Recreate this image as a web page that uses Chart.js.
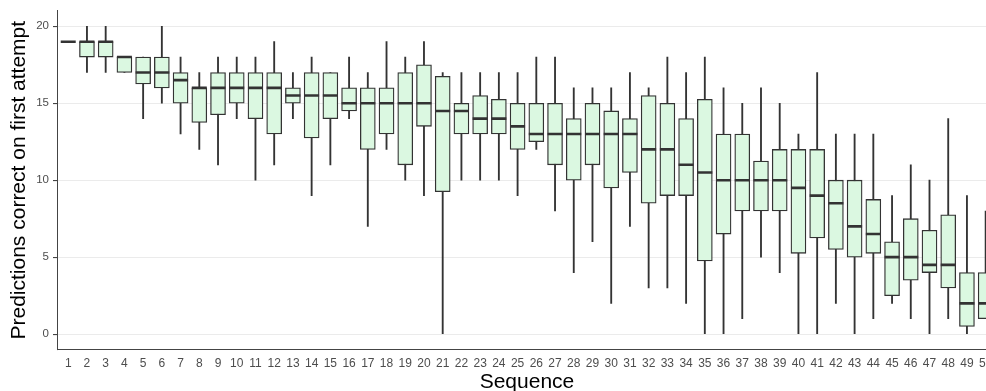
<!DOCTYPE html>
<html>
<head>
<meta charset="utf-8">
<script src="https://cdn.jsdelivr.net/npm/chart.js@4"></script>
<style>
	html, body { margin: 0; padding: 0; background: #fff; overflow: hidden; }
	#wrap { width: 1007px; height: 391px; }
</style>
</head>
<body>
<div id="wrap"><canvas id="boxes" width="1007" height="391"></canvas></div>
<script>
// one entry per sequence: whisker ends, quartiles and median
var sequences = [];
for (var s = 1; s <= 50; s++) sequences.push(s);

var whiskerLow = [19, 17, 17, 17, 14, 15, 13, 12, 11, 14,
	10, 11, 14, 9, 11, 14, 7, 12, 10, 9,
	0, 10, 10, 10, 9, 12, 8, 4, 6, 2,
	7, 3, 3, 2, 0, 0, 1, 5, 4, 0,
	0, 2, 0, 1, 2, 1, 0, 1, 0, 1];
var lowerQuartile = [19, 18, 18, 17, 16.25, 16, 15, 13.75, 14.25, 15,
	14, 13, 15, 12.75, 14, 14.5, 12, 13, 11, 13.5,
	9.25, 13, 13, 13, 12, 12.5, 11, 10, 11, 9.5,
	10.5, 8.5, 9, 9, 4.75, 6.5, 8, 8, 8, 5.25,
	6.25, 5.5, 5, 5.25, 2.5, 3.5, 4, 3, 0.5, 1];
var medians = [19, 19, 19, 18, 17, 17, 16.5, 16, 16, 16,
	16, 16, 15.5, 15.5, 15.5, 15, 15, 15, 15, 15,
	14.5, 14.5, 14, 14, 13.5, 13, 13, 13, 13, 13,
	13, 12, 12, 11, 10.5, 10, 10, 10, 10, 9.5,
	9, 8.5, 7, 6.5, 5, 5, 4.5, 4.5, 2, 2];
var upperQuartile = [19, 19, 19, 18, 18, 18, 17, 16, 17, 17,
	17, 17, 16, 17, 17, 16, 16, 16, 17, 17.5,
	16.75, 15, 15.5, 15.25, 15, 15, 15, 14, 15, 14.5,
	14, 15.5, 15, 14, 15.25, 13, 13, 11.25, 12, 12,
	12, 10, 10, 8.75, 6, 7.5, 6.75, 7.75, 4, 4];
var whiskerHigh = [19, 20, 20, 18, 18, 20, 18, 17, 18, 18,
	18, 19, 17, 18, 17, 18, 17, 19, 18, 19,
	17, 17, 17, 17, 17, 18, 18, 16, 16, 16,
	17, 16, 18, 17, 18, 16, 15, 16, 15, 13,
	17, 13, 13, 13, 9, 11, 10, 14, 9, 8];

var yTicks = [0, 5, 10, 15, 20];

var fontFam = "'Liberation Sans', Arial, sans-serif";
var ink = '#333333';

var boxData = sequences.map(function (s, i) { return { x: s, y: [lowerQuartile[i], upperQuartile[i]] }; });
var whiskerData = sequences.map(function (s, i) { return { x: s, y: [whiskerLow[i], whiskerHigh[i]] }; });
var medianData = sequences.map(function (s, i) { return { x: s, y: medians[i] }; });

var config = {
	type: 'bar',
	data: {
		datasets: [{
			type: 'line',
			label: 'median',
			data: medianData,
			showLine: false,
			pointStyle: 'line',
			pointRadius: 7.5,
			pointHoverRadius: 7.5,
			pointBorderWidth: 2.6,
			pointBorderColor: ink,
			borderColor: ink,
			order: 0
		}, {
			label: 'box',
			data: boxData,
			backgroundColor: '#dbf8e1',
			borderColor: ink,
			borderWidth: 1.3,
			borderSkipped: false,
			barThickness: 15,
			grouped: false,
			order: 1
		}, {
			label: 'whisker',
			data: whiskerData,
			backgroundColor: ink,
			borderWidth: 0,
			barThickness: 1.2,
			grouped: false,
			order: 2
		}]
	},
	options: {
		responsive: false,
		animation: false,
		devicePixelRatio: 1,
		layout: { padding: { top: 9, right: 3, left: 0, bottom: 0 } },
		plugins: {
			legend: { display: false },
			tooltip: { enabled: false }
		},
		scales: {
			x: {
				type: 'linear',
				offset: false,
				min: 0.4,
				max: 50.6,
				afterBuildTicks: function (scale) {
					scale.ticks = sequences.map(function (v) { return { value: v }; });
				},
				afterFit: function (scale) { scale.height = 41.5; },
				grid: { display: false, drawTicks: false, offset: false },
				border: { display: true, color: '#444444', width: 1 },
				ticks: {
					autoSkip: false,
					maxRotation: 0,
					padding: 7,
					color: '#4d4d4d',
					font: { family: fontFam, size: 12 }
				},
				title: {
					display: true,
					text: 'Sequence',
					color: '#000000',
					font: { family: fontFam, size: 21, lineHeight: 0.86 },
					padding: { top: 0, bottom: 0 }
				}
			},
			y: {
				min: -1,
				max: 21,
				afterBuildTicks: function (scale) {
					scale.ticks = yTicks.map(function (v) { return { value: v }; });
				},
				afterFit: function (scale) { scale.width = 57; },
				grid: {
					color: '#ebebeb',
					lineWidth: 1.1,
					drawTicks: true,
					tickLength: 4,
					tickColor: '#444444'
				},
				border: { display: true, color: '#444444', width: 1 },
				ticks: {
					padding: 4,
					color: '#4d4d4d',
					font: { family: fontFam, size: 11.5 }
				},
				title: {
					display: true,
					text: 'Predictions correct on first attempt',
					color: '#000000',
					font: { family: fontFam, size: 21, lineHeight: 1 },
					padding: { top: 8.5, bottom: 0 }
				}
			}
		}
	}
};

var boxChart = new Chart(document.getElementById('boxes'), config);
</script>
</body>
</html>
